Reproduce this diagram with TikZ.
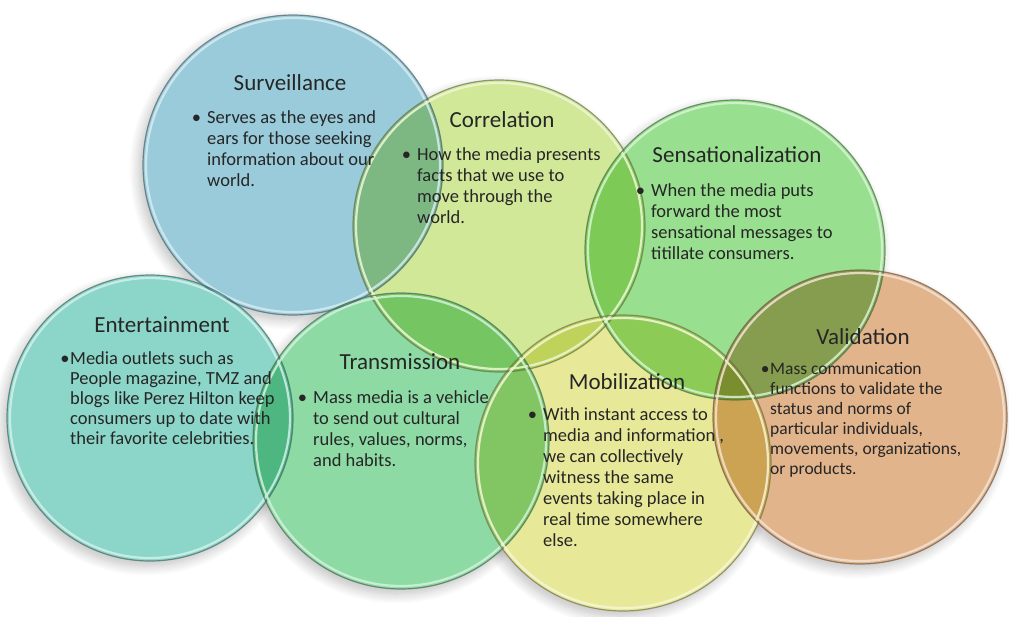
\documentclass[tikz,border=0pt]{standalone}
\usepackage{fontspec}
\setmainfont{Carlito}
\usetikzlibrary{shadows.blur}
\definecolor{survC}{RGB}{142,198,216}
\definecolor{corrC}{RGB}{206,230,142}
\definecolor{sensC}{RGB}{142,220,132}
\definecolor{entC}{RGB}{128,210,196}
\definecolor{transC}{RGB}{130,214,156}
\definecolor{mobC}{RGB}{230,230,142}
\definecolor{valC}{RGB}{222,172,128}
\definecolor{txt}{RGB}{38,38,38}
\tikzset{
  bubble/.style={circle, inner sep=0pt, minimum size=#1, fill opacity=0.9, blend mode=multiply},
  shade/.style={blur shadow={shadow xshift=-4pt, shadow yshift=-5pt, shadow opacity=25, shadow blur radius=10pt, shadow blur steps=12}},
  rimout/.style={draw=#1!50!black, line width=1.2pt, draw opacity=0.7},
  rimin/.style={draw=#1!35!white, line width=2.2pt, draw opacity=0.85},
  ttl/.style={font=\fontsize{23}{26}\selectfont, text=txt, inner sep=0pt},
  bodyA/.style={font=\fontsize{18.5}{21}\selectfont, text=txt, inner sep=0pt, anchor=north west},
  bodyE/.style={font=\fontsize{18.5}{20}\selectfont, text=txt, inner sep=0pt, anchor=north west},
  bodyV/.style={font=\fontsize{17.5}{20}\selectfont, text=txt, inner sep=0pt, anchor=north west}
}
\newcommand{\bulA}{\llap{\textbullet\hspace{6pt}}}
\newcommand{\bulB}{\llap{\textbullet\hspace{0.5pt}}}
\begin{document}
\begin{tikzpicture}[x=1pt,y=-1pt]
\useasboundingbox (0,0) rectangle (1009,616);
% centres
\coordinate (cs) at (293,165);
\coordinate (cc) at (499,226);
\coordinate (cn) at (735,250);
\coordinate (ce) at (150,418);
\coordinate (ct) at (401,441);
\coordinate (cm) at (623,463);
\coordinate (cv) at (860,417);
% shadows
\path[shade] (cs) circle[radius=150pt];
\path[shade] (cc) circle[radius=146pt];
\path[shade] (cn) circle[radius=150pt];
\path[shade] (ce) circle[radius=143pt];
\path[shade] (ct) circle[radius=148pt];
\path[shade] (cm) circle[radius=148pt];
\path[shade] (cv) circle[radius=147pt];
% white base
\fill[white] (cs) circle[radius=150pt] (cc) circle[radius=146pt] (cn) circle[radius=150pt]
  (ce) circle[radius=143pt] (ct) circle[radius=148pt] (cm) circle[radius=148pt] (cv) circle[radius=147pt];
% fills
\node[bubble=300pt, fill=survC] (surv) at (cs) {};
\node[bubble=292pt, fill=corrC] (corr) at (cc) {};
\node[bubble=300pt, fill=sensC] (sens) at (cn) {};
\node[bubble=286pt, fill=entC] (ent) at (ce) {};
\node[bubble=296pt, fill=transC] (trans) at (ct) {};
\node[bubble=296pt, fill=mobC] (mob) at (cm) {};
\node[bubble=294pt, fill=valC] (val) at (cv) {};
% rims
\draw[rimin=survC] (cs) circle[radius=147pt];
\draw[rimout=survC] (cs) circle[radius=150pt];
\draw[rimin=corrC] (cc) circle[radius=143pt];
\draw[rimout=corrC] (cc) circle[radius=146pt];
\draw[rimin=sensC] (cn) circle[radius=147pt];
\draw[rimout=sensC] (cn) circle[radius=150pt];
\draw[rimin=entC] (ce) circle[radius=140pt];
\draw[rimout=entC] (ce) circle[radius=143pt];
\draw[rimin=transC] (ct) circle[radius=145pt];
\draw[rimout=transC] (ct) circle[radius=148pt];
\draw[rimin=mobC] (cm) circle[radius=145pt];
\draw[rimout=mobC] (cm) circle[radius=148pt];
\draw[rimin=valC] (cv) circle[radius=144pt];
\draw[rimout=valC] (cv) circle[radius=147pt];
% titles
\node[ttl] (survT) at (290,83) {Surveillance};
\node[ttl] (corrT) at (502,120) {Correlation};
\node[ttl] (sensT) at (737,155) {Sensationalization};
\node[ttl] (entT) at (162,325) {Entertainment};
\node[ttl] (transT) at (400,362) {Transmission};
\node[ttl] (mobT) at (627,382) {Mobilization};
\node[ttl] (valT) at (863,337) {Validation};
% bodies
\node[bodyA] (survB) at (207,109) {\begin{tabular}{@{}l@{}}\bulA Serves as the eyes and\\ ears for those seeking\\ information about our\\ world.\end{tabular}};
\node[bodyA] (corrB) at (417,146) {\begin{tabular}{@{}l@{}}\bulA How the media presents\\ facts that we use to\\ move through the\\ world.\end{tabular}};
\node[bodyA] (sensB) at (651,182) {\begin{tabular}{@{}l@{}}\bulA When the media puts\\ forward the most\\ sensational messages to\\ titillate consumers.\end{tabular}};
\node[bodyE] (entB) at (70,350) {\begin{tabular}{@{}l@{}}\bulB Media outlets such as\\ People magazine, TMZ and\\ blogs like Perez Hilton keep\\ consumers up to date with\\ their favorite celebrities.\end{tabular}};
\node[bodyA] (transB) at (313,389) {\begin{tabular}{@{}l@{}}\bulA Mass media is a vehicle\\ to send out cultural\\ rules, values, norms,\\ and habits.\end{tabular}};
\node[bodyA] (mobB) at (543,406) {\begin{tabular}{@{}l@{}}\bulA With instant access to\\ media and information ,\\ we can collectively\\ witness the same\\ events taking place in\\ real time somewhere\\ else.\end{tabular}};
\node[bodyV] (valB) at (770,360) {\begin{tabular}{@{}l@{}}\bulB Mass communication\\ functions to validate the\\ status and norms of\\ particular individuals,\\ movements, organizations,\\ or products.\end{tabular}};
\end{tikzpicture}
\end{document}
